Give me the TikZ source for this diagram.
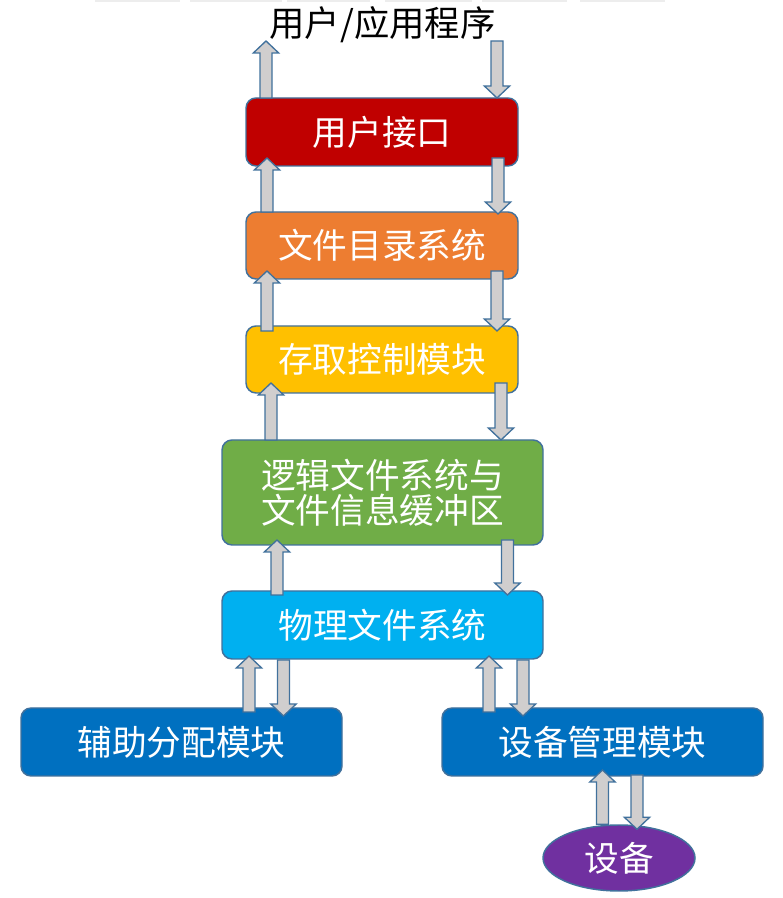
\documentclass[tikz,border=0pt]{standalone}
\usepackage{fontspec}
\newfontfamily\cjk{Noto Sans CJK SC}
\usetikzlibrary{calc,shapes.geometric}
\definecolor{edgeblue}{HTML}{41719C}
\definecolor{arrfill}{HTML}{D0CECE}
\definecolor{cRed}{HTML}{C00000}
\definecolor{cOrange}{HTML}{ED7D31}
\definecolor{cYellow}{HTML}{FFC000}
\definecolor{cGreen}{HTML}{70AD47}
\definecolor{cSky}{HTML}{00B0F0}
\definecolor{cBlue}{HTML}{0070C0}
\definecolor{cPurple}{HTML}{7030A0}
\tikzset{
  boxnode/.style 2 args={draw=edgeblue, line width=1.1pt, rounded corners=7.5pt,
    fill=#1, text=white, inner sep=0pt, outer sep=0pt,
    minimum height={#2*0.75pt}, align=center,
    font=\cjk\fontsize{26}{26.5}\selectfont},
  blk/.style={draw=edgeblue, line width=1pt, fill=arrfill, line join=miter}
}
% #1 x (px), #2 from coordinate, #3 from offset (px, up positive), #4 tip coordinate, #5 tip offset
\newcommand\barrow[5]{%
  \draw[blk] let \p1=(#2), \p2=(#4),
     \n1={\y1+#3*0.75pt}, \n2={\y2+#5*0.75pt}, \n3={#1*0.75},
     \n4={ifthenelse(\n2>\n1,1,-1)} in
  ({(\n3-4.5)*1pt},{\n1*1pt}) -- ({(\n3-4.5)*1pt},{(\n2-\n4*9)*1pt})
  -- ({(\n3-9.5)*1pt},{(\n2-\n4*9)*1pt}) -- ({\n3*1pt},{\n2*1pt})
  -- ({(\n3+9.5)*1pt},{(\n2-\n4*9)*1pt}) -- ({(\n3+4.5)*1pt},{(\n2-\n4*9)*1pt})
  -- ({(\n3+4.5)*1pt},{\n1*1pt}) -- cycle;}
\begin{document}
\begin{tikzpicture}[x=0.75pt,y=0.75pt]
\useasboundingbox (0,0) rectangle (782,898);
% faint cut-off shapes along the top edge
\foreach \a/\b in {95/180,190/282,287/370,385/472,482/567,580/665}
  \fill[gray!14] (\a,895.5) rectangle (\b,898);
% title
\node[font=\cjk\fontsize{26.5}{28}\selectfont, text=black, inner sep=0pt] (title) at (382.5,873) {用户/应用程序};
\coordinate (tu) at (266,857);
\coordinate (td) at (497,857);
% boxes
\node[boxnode={cRed}{68}, minimum width={272*0.75pt}] (b1) at (382,766) {用户接口};
\node[boxnode={cOrange}{67}, minimum width={272*0.75pt}] (b2) at (382,652.5) {文件目录系统};
\node[boxnode={cYellow}{67}, minimum width={272*0.75pt}] (b3) at (382,538.5) {存取控制模块};
\node[boxnode={cGreen}{105}, minimum width={321*0.75pt}] (b4) at (382.5,405.5) {逻辑文件系统与\\文件信息缓冲区};
\node[boxnode={cSky}{68}, minimum width={321*0.75pt}] (b5) at (382.5,273) {物理文件系统};
\node[boxnode={cBlue}{68}, minimum width={321*0.75pt}] (b6) at (181.5,156) {辅助分配模块};
\node[boxnode={cBlue}{68}, minimum width={321*0.75pt}] (b7) at (602.5,156) {设备管理模块};
\node[ellipse, draw=edgeblue, line width=1.1pt, fill=cPurple, text=white, inner sep=0pt,
      minimum width={152*0.75pt}, minimum height={66*0.75pt},
      font=\cjk\fontsize{26}{26.5}\selectfont] (dev) at (619,40) {设备};
% arrows
\barrow{266}{b1.north}{0}{tu}{0}
\barrow{497}{td}{0}{b1.north}{0}
\barrow{267}{b2.north}{0}{b1.south}{8}
\barrow{498}{b1.south}{8}{b2.north}{-2}
\barrow{267}{b3.north}{-5}{b2.south}{8}
\barrow{497}{b2.south}{8}{b3.north}{-5}
\barrow{271}{b4.north}{0}{b3.south}{10}
\barrow{501}{b3.south}{10}{b4.north}{0}
\barrow{277}{b5.north}{-4}{b4.south}{5}
\barrow{507.5}{b4.south}{5}{b5.north}{-4}
\barrow{249}{b6.north}{-4}{b5.south}{3}
\barrow{283.5}{b5.south}{-1}{b6.north}{-8}
\barrow{489}{b7.north}{-4}{b5.south}{3}
\barrow{523}{b5.south}{-1}{b7.north}{-8}
\barrow{602.5}{dev.north}{0}{b7.south}{6}
\barrow{637}{b7.south}{1}{dev.north}{-5}
\end{tikzpicture}
\end{document}
